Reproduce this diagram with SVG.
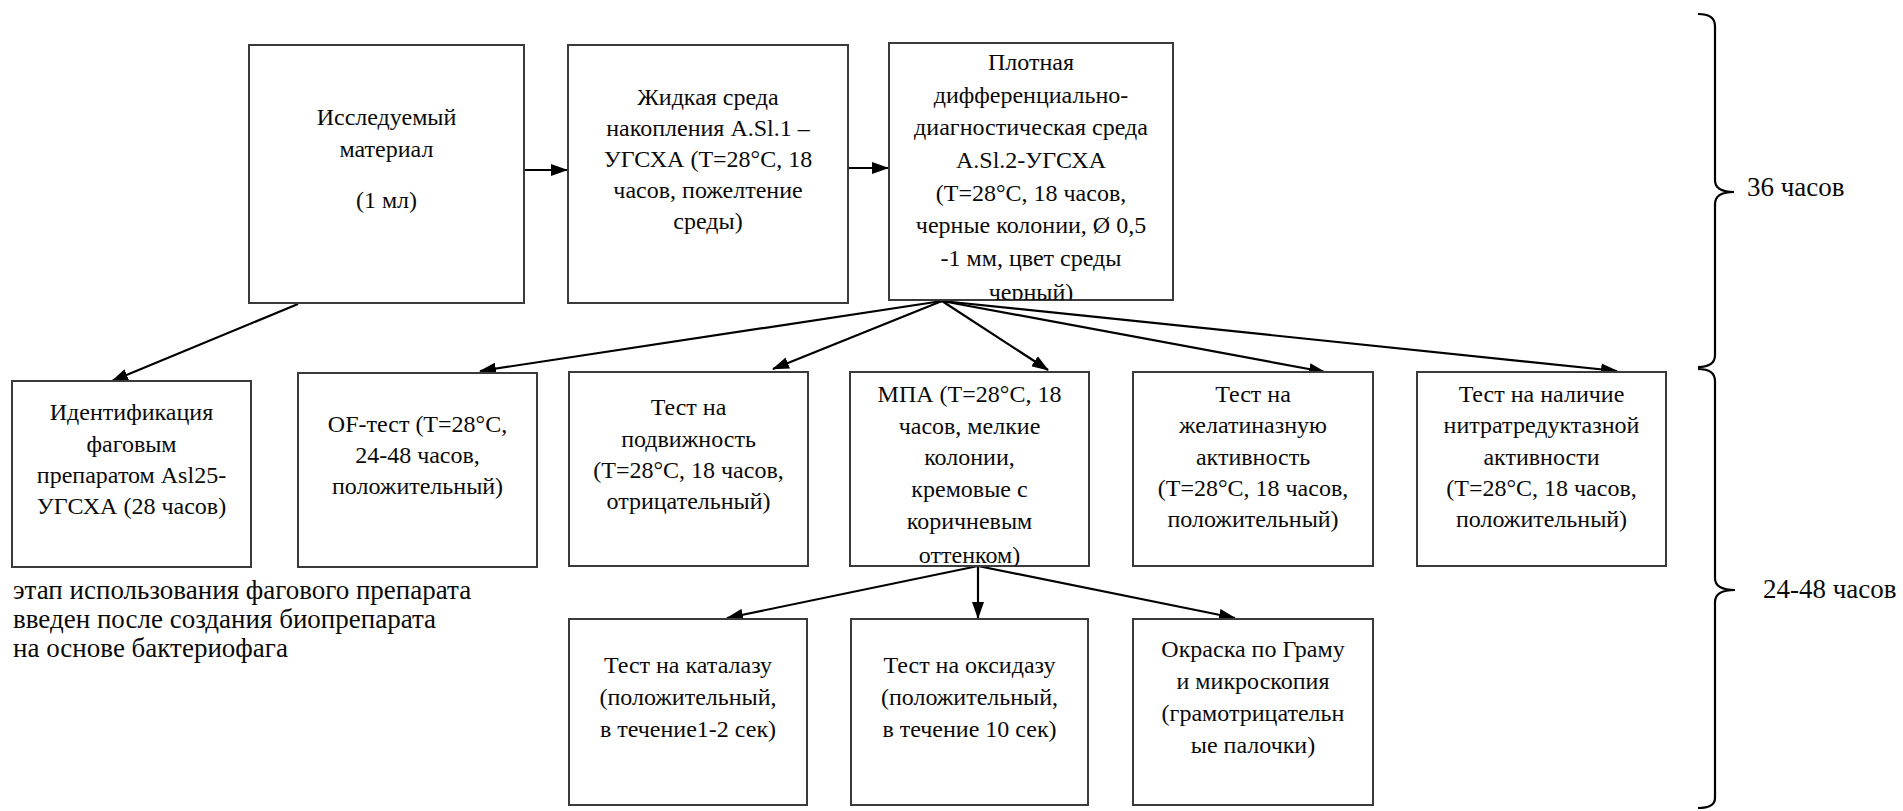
<svg xmlns="http://www.w3.org/2000/svg" width="1903" height="811" viewBox="0 0 1903 811">
<style>
.box{fill:#fff;stroke:#3a3a3a;stroke-width:2}
.t{font-family:'Liberation Serif','Times New Roman',serif;font-size:24px;fill:#0a0a0a;text-anchor:middle}
.lab{font-family:'Liberation Serif','Times New Roman',serif;font-size:27px;fill:#0a0a0a}
.c{stroke:#000;stroke-width:2.2;fill:none;marker-end:url(#ah)}
.br{stroke:#000;stroke-width:2.2;fill:none}
</style>
<defs>
<marker id="ah" markerWidth="17" markerHeight="12" refX="16" refY="6" orient="auto" markerUnits="userSpaceOnUse"><path d="M0,0 L17,6 L0,12 z" fill="#000"/></marker>
<clipPath id="clip3"><rect x="889" y="43" width="284" height="257"/></clipPath>
<clipPath id="clipM"><rect x="850" y="372" width="239" height="194"/></clipPath>
</defs>
<rect width="1903" height="811" fill="#fff"/>

<g id="connectors">
<path class="c" d="M524,170 L567,170"/>
<path class="c" d="M848,168 L888,168"/>
<path class="c" d="M298,304 L112,381"/>
<path class="c" d="M942,301 L480,371"/>
<path class="c" d="M942,301 L773,369"/>
<path class="c" d="M942,301 L1048,370"/>
<path class="c" d="M942,301 L1325,372"/>
<path class="c" d="M942,301 L1617,371"/>
<path class="c" d="M978,566 L727,618"/>
<path class="c" d="M978,566 L978,618"/>
<path class="c" d="M978,566 L1235,618"/>
</g>

<g id="n1">
<rect class="box" x="249" y="45" width="275" height="258"/>
<text class="t" x="386.5" y="125">Исследуемый</text>
<text class="t" x="386.5" y="157">материал</text>
<text class="t" x="386.5" y="208">(1 мл)</text>
</g>

<g id="n2">
<rect class="box" x="568" y="45" width="280" height="258"/>
<text class="t" x="708" y="105">Жидкая среда</text>
<text class="t" x="708" y="136">накопления A.Sl.1 –</text>
<text class="t" x="708" y="167">УГСХА (Т=28°С, 18</text>
<text class="t" x="708" y="198">часов, пожелтение</text>
<text class="t" x="708" y="229">среды)</text>
</g>

<g id="n3">
<rect class="box" x="889" y="43" width="284" height="257"/>
<g clip-path="url(#clip3)">
<text class="t" x="1031" y="70">Плотная</text>
<text class="t" x="1031" y="103">дифференциально-</text>
<text class="t" x="1031" y="135">диагностическая  среда</text>
<text class="t" x="1031" y="168">A.Sl.2-УГСХА</text>
<text class="t" x="1031" y="201">(Т=28°С, 18 часов,</text>
<text class="t" x="1031" y="233">черные колонии, Ø 0,5</text>
<text class="t" x="1031" y="266">-1 мм, цвет среды</text>
<text class="t" x="1031" y="300">черный)</text>
</g>
</g>

<g id="n4">
<rect class="box" x="12" y="381" width="239" height="186"/>
<text class="t" x="131.5" y="420">Идентификация</text>
<text class="t" x="131.5" y="452">фаговым</text>
<text class="t" x="131.5" y="483">препаратом  Asl25-</text>
<text class="t" x="131.5" y="514">УГСХА (28 часов)</text>
</g>

<g id="n5">
<rect class="box" x="298" y="373" width="239" height="194"/>
<text class="t" x="417.5" y="432">OF-тест (Т=28°С,</text>
<text class="t" x="417.5" y="463">24-48 часов,</text>
<text class="t" x="417.5" y="494">положительный)</text>
</g>

<g id="n6">
<rect class="box" x="569" y="372" width="239" height="194"/>
<text class="t" x="688.5" y="415">Тест на</text>
<text class="t" x="688.5" y="447">подвижность</text>
<text class="t" x="688.5" y="478">(Т=28°С, 18 часов,</text>
<text class="t" x="688.5" y="509">отрицательный)</text>
</g>

<g id="n7">
<rect class="box" x="850" y="372" width="239" height="194"/>
<g clip-path="url(#clipM)">
<text class="t" x="969.5" y="402">МПА (Т=28°С, 18</text>
<text class="t" x="969.5" y="434">часов, мелкие</text>
<text class="t" x="969.5" y="465">колонии,</text>
<text class="t" x="969.5" y="497">кремовые с</text>
<text class="t" x="969.5" y="529">коричневым</text>
<text class="t" x="969.5" y="563">оттенком)</text>
</g>
</g>

<g id="n8">
<rect class="box" x="1133" y="372" width="240" height="194"/>
<text class="t" x="1253" y="402">Тест на</text>
<text class="t" x="1253" y="433">желатиназную</text>
<text class="t" x="1253" y="465">активность</text>
<text class="t" x="1253" y="496">(Т=28°С, 18 часов,</text>
<text class="t" x="1253" y="527">положительный)</text>
</g>

<g id="n9">
<rect class="box" x="1417" y="372" width="249" height="194"/>
<text class="t" x="1541.5" y="402">Тест на наличие</text>
<text class="t" x="1541.5" y="433">нитратредуктазной</text>
<text class="t" x="1541.5" y="465">активности</text>
<text class="t" x="1541.5" y="496">(Т=28°С, 18 часов,</text>
<text class="t" x="1541.5" y="527">положительный)</text>
</g>

<g id="n10">
<rect class="box" x="569" y="619" width="238" height="186"/>
<text class="t" x="688" y="673">Тест на каталазу</text>
<text class="t" x="688" y="705">(положительный,</text>
<text class="t" x="688" y="737">в течение1-2  сек)</text>
</g>

<g id="n11">
<rect class="box" x="851" y="619" width="237" height="186"/>
<text class="t" x="969.5" y="673">Тест на оксидазу</text>
<text class="t" x="969.5" y="705">(положительный,</text>
<text class="t" x="969.5" y="737">в течение  10 сек)</text>
</g>

<g id="n12">
<rect class="box" x="1133" y="619" width="240" height="186"/>
<text class="t" x="1253" y="657">Окраска по Граму</text>
<text class="t" x="1253" y="689">и микроскопия</text>
<text class="t" x="1253" y="721">(грамотрицательн</text>
<text class="t" x="1253" y="753">ые палочки)</text>
</g>

<g id="braces">
<path class="br" d="M1698,14 Q1715,14 1715,26 L1715,180 Q1715,192 1734,192 Q1715,192 1715,204 L1715,355 Q1715,367 1698,367"/>
<path class="br" d="M1698,369 Q1715,369 1715,381 L1715,578 Q1715,590 1735,590 Q1715,590 1715,602 L1715,798 Q1715,808 1698,808"/>
<text class="lab" x="1747" y="196">36 часов</text>
<text class="lab" x="1763" y="598">24-48 часов</text>
</g>

<g id="note">
<text class="lab" x="13" y="599">этап использования фагового препарата</text>
<text class="lab" x="13" y="628">введен после создания биопрепарата</text>
<text class="lab" x="13" y="657">на основе бактериофага</text>
</g>
</svg>
